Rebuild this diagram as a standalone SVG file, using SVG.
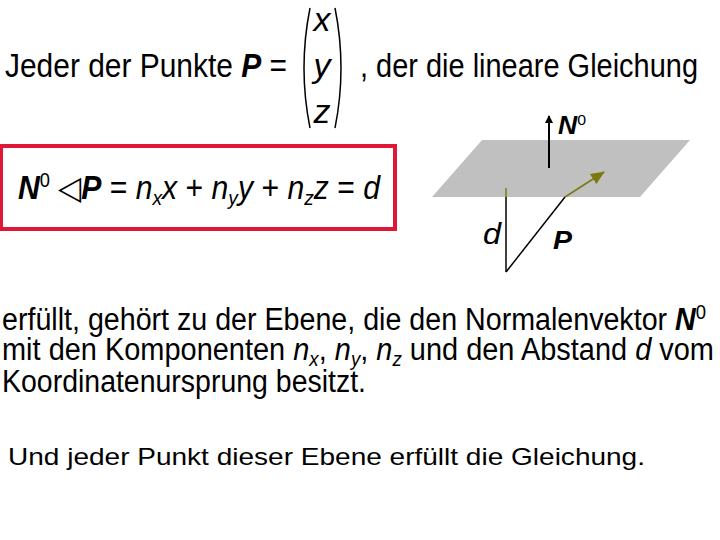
<svg xmlns="http://www.w3.org/2000/svg" width="720" height="540" viewBox="0 0 720 540">
<style>
text{font-family:"Liberation Sans",Arial,sans-serif;fill:#000}
.t{font-size:33px}
.b{font-size:31px}
.bi{font-weight:bold;font-style:italic}
.i{font-style:italic}
</style>
<defs>
<marker id="ak" markerWidth="8" markerHeight="8" refX="7" refY="4" orient="auto" markerUnits="userSpaceOnUse"><path d="M0,0L8,4L0,8z" fill="#000"/></marker>
<marker id="ao" markerWidth="14" markerHeight="12" refX="13" refY="6" orient="auto" markerUnits="userSpaceOnUse"><path d="M0,0L14,6L0,12z" fill="#7a7a10"/></marker>
</defs>
<rect width="720" height="540" fill="#fff"/>
<g id="header">
<text class="t" x="5" y="77" textLength="282" lengthAdjust="spacingAndGlyphs">Jeder der Punkte <tspan class="bi">P</tspan> =</text>
<path d="M310,8 Q298,68 310,128" fill="none" stroke="#000" stroke-width="1.5"/>
<path d="M335,8 Q347,68 335,128" fill="none" stroke="#000" stroke-width="1.5"/>
<text class="t i" x="322" y="31" text-anchor="middle" textLength="17" lengthAdjust="spacingAndGlyphs">x</text>
<text class="t i" x="322" y="77" text-anchor="middle" textLength="17" lengthAdjust="spacingAndGlyphs">y</text>
<text class="t i" x="322" y="123" text-anchor="middle" textLength="17" lengthAdjust="spacingAndGlyphs">z</text>
<text class="t" x="360" y="77" textLength="338" lengthAdjust="spacingAndGlyphs">, der die lineare Gleichung</text>
</g>
<g id="equation">
<rect x="1" y="146" width="394" height="83" fill="none" stroke="#e01838" stroke-width="4"/>
<text class="t" x="18" y="199" textLength="362" lengthAdjust="spacingAndGlyphs"><tspan class="bi">N</tspan><tspan font-size="20" dy="-12">0</tspan><tspan dy="12"> ◁</tspan><tspan class="bi">P</tspan> = <tspan class="i">n</tspan><tspan class="i" font-size="21" dy="6">x</tspan><tspan class="i" dy="-6">x</tspan> + <tspan class="i">n</tspan><tspan class="i" font-size="21" dy="6">y</tspan><tspan class="i" dy="-6">y</tspan> + <tspan class="i">n</tspan><tspan class="i" font-size="21" dy="6">z</tspan><tspan class="i" dy="-6">z</tspan> = <tspan class="i">d</tspan></text>
</g>
<g id="plane">
<polygon points="432,197 482,140 690,140 640,197" fill="#c0c0c0"/>
</g>
<g id="connectors">
<line x1="549" y1="168" x2="549" y2="116" stroke="#000" stroke-width="2" marker-end="url(#ak)"/>
<line x1="506" y1="197" x2="506" y2="272" stroke="#000" stroke-width="1.5"/>
<line x1="506" y1="188" x2="506" y2="197" stroke="#7a7a10" stroke-width="1.5"/>
<line x1="506" y1="272" x2="565" y2="197" stroke="#000" stroke-width="1.5"/>
<line x1="565" y1="197" x2="604" y2="172" stroke="#7a7a10" stroke-width="1.5" marker-end="url(#ao)"/>
</g>
<g id="labels">
<text x="558" y="134" font-size="25" class="bi" textLength="28" lengthAdjust="spacingAndGlyphs">N<tspan font-size="15" font-weight="normal" font-style="normal" dy="-9">0</tspan></text>
<text x="483" y="244" font-size="29" class="i" textLength="18" lengthAdjust="spacingAndGlyphs">d</text>
<text x="553" y="249" font-size="26" class="bi" textLength="19" lengthAdjust="spacingAndGlyphs">P</text>
</g>
<g id="body">
<text class="b" x="2" y="330" textLength="704" lengthAdjust="spacingAndGlyphs">erfüllt, gehört zu der Ebene, die den Normalenvektor <tspan class="bi">N</tspan><tspan font-size="20" dy="-11">0</tspan></text>
<text class="b" x="2" y="360" textLength="712" lengthAdjust="spacingAndGlyphs">mit den Komponenten <tspan class="i">n</tspan><tspan class="i" font-size="20" dy="6">x</tspan><tspan dy="-6">, </tspan><tspan class="i">n</tspan><tspan class="i" font-size="20" dy="6">y</tspan><tspan dy="-6">, </tspan><tspan class="i">n</tspan><tspan class="i" font-size="20" dy="6">z</tspan><tspan dy="-6"> und den Abstand </tspan><tspan class="i">d</tspan> vom</text>
<text class="b" x="2" y="392" textLength="364" lengthAdjust="spacingAndGlyphs">Koordinatenursprung besitzt.</text>
<text x="8" y="465" font-size="24" textLength="637" lengthAdjust="spacingAndGlyphs">Und jeder Punkt dieser Ebene erfüllt die Gleichung.</text>
</g>
</svg>
